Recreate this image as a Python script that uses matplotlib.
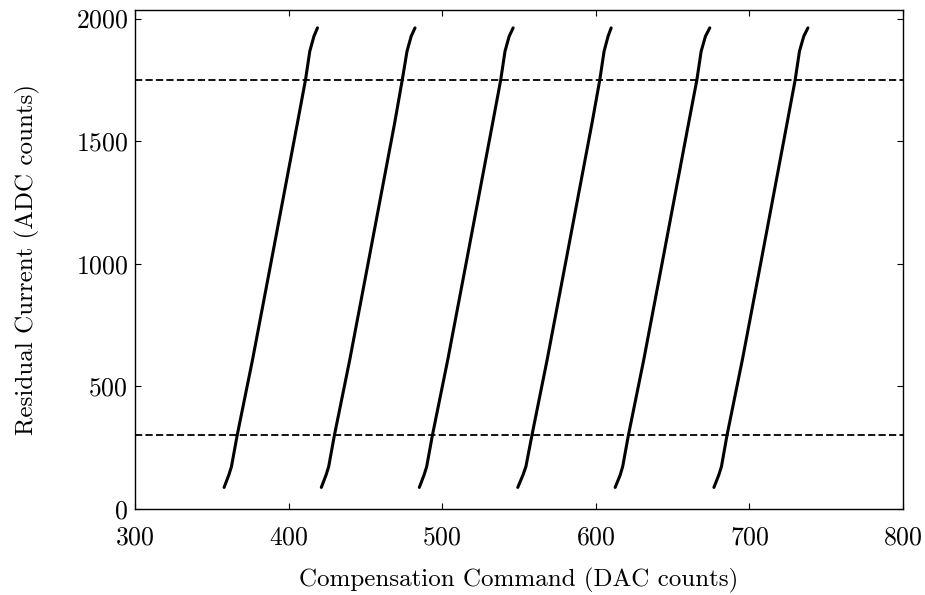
import matplotlib
matplotlib.use("Agg")
import matplotlib.pyplot as plt

plt.rcParams['font.family'] = ['cmr10', 'DejaVu Serif']
plt.rcParams['axes.formatter.use_mathtext'] = True
plt.rcParams['mathtext.fontset'] = 'cm'

# Residual current levels (ADC counts) at which each curve was read
y_levels = [88, 139, 173, 300, 608, 1000, 1576, 1750, 1867, 1928, 1962]

# Compensation command (DAC counts) for each curve at those levels
line1 = [358.0, 361.1, 362.8, 366.5, 376.5, 388.4, 405.8, 411.0, 413.8, 416.5, 418.8]
line2 = [421.3, 424.4, 426.1, 429.8, 439.8, 451.7, 469.1, 474.0, 477.1, 479.8, 482.3]
line3 = [485.1, 488.2, 489.9, 493.6, 503.6, 515.5, 532.9, 538.1, 540.9, 543.6, 546.2]
line4 = [549.2, 552.6, 554.5, 558.4, 568.3, 580.2, 597.6, 602.6, 605.4, 608.0, 610.0]
line5 = [612.6, 615.9, 617.5, 621.2, 631.2, 643.1, 660.5, 665.8, 668.6, 671.4, 674.2]
line6 = [676.9, 680.1, 681.8, 685.4, 695.4, 707.3, 724.6, 729.8, 732.6, 735.4, 738.1]
curves = [line1, line2, line3, line4, line5, line6]

# Threshold levels (dashed)
thresholds = [300, 1750]

x_ticks = [300, 400, 500, 600, 700, 800]
y_ticks = [0, 500, 1000, 1500, 2000]

fig = plt.figure(figsize=(9.25, 5.95), dpi=100)
ax = fig.add_axes([135/925, 86/595, (903-135)/925, (509-10)/595])

for xs in curves:
    ax.plot(xs, y_levels, color='black', lw=2.2, solid_capstyle='round')

for t in thresholds:
    ax.axhline(t, color='black', lw=1.3, ls=(0, (4.0, 1.8)))

ax.set_xlim(300, 800)
ax.set_ylim(0, 2035)
ax.set_xticks(x_ticks)
ax.set_yticks(y_ticks)
ax.tick_params(direction='in', length=4, width=0.8, top=True, right=True,
               labelsize=18.5)
ax.tick_params(axis='x', pad=12)
ax.tick_params(axis='y', pad=5)
for s in ax.spines.values():
    s.set_linewidth(1.0)

ax.set_xlabel('Compensation Command (DAC counts)', fontsize=18, labelpad=13)
ax.set_ylabel('Residual Current (ADC counts)', fontsize=18, labelpad=26)

fig.savefig('out.png', dpi=100)
